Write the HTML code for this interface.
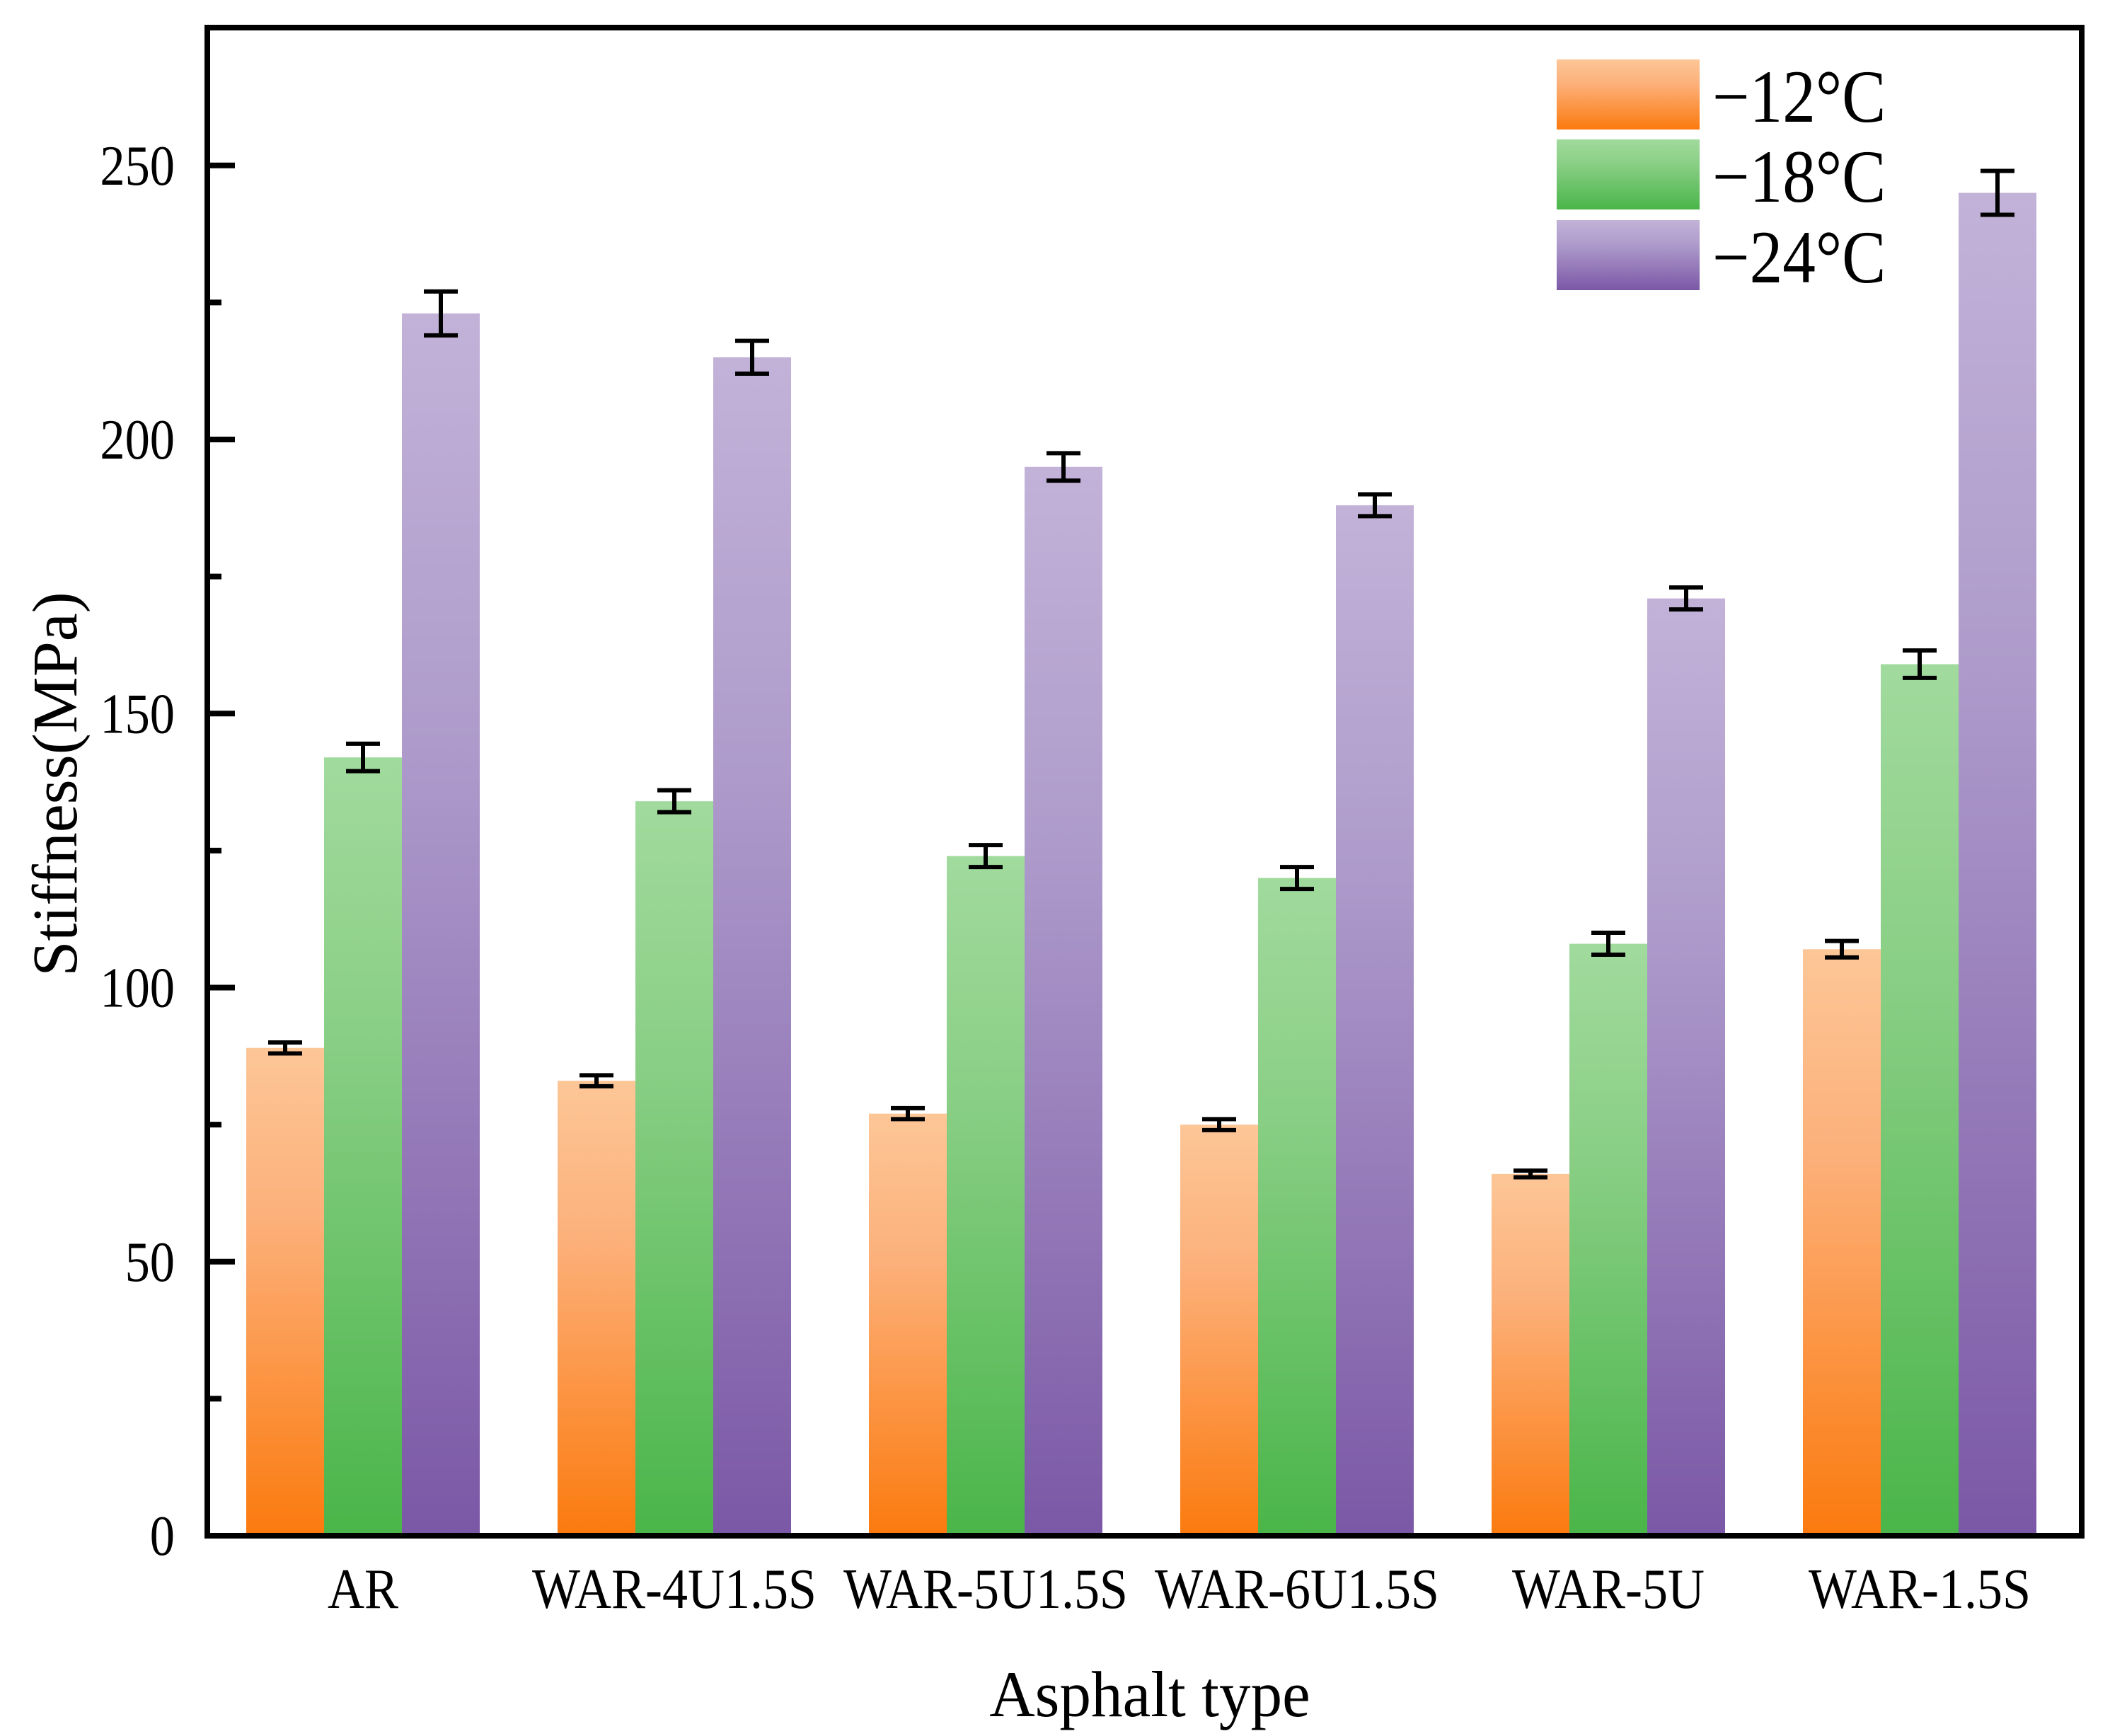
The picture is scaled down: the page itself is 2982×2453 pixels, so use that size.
<!DOCTYPE html>
<html><head><meta charset="utf-8"><style>
html,body{margin:0;padding:0;background:#fff}
svg{display:block;font-family:"Liberation Serif",serif}
</style></head><body>
<svg id="chart" width="2982" height="2453" viewBox="0 0 2982 2453" xmlns="http://www.w3.org/2000/svg">
<defs>
<linearGradient id="g0" x1="0" y1="0" x2="0" y2="1"><stop offset="0" stop-color="#fdc697"/><stop offset="0.35" stop-color="#fcb07a"/><stop offset="1" stop-color="#fb7a0e"/></linearGradient>
<linearGradient id="g1" x1="0" y1="0" x2="0" y2="1"><stop offset="0" stop-color="#a1da9d"/><stop offset="0.35" stop-color="#8acf86"/><stop offset="1" stop-color="#4ab549"/></linearGradient>
<linearGradient id="g2" x1="0" y1="0" x2="0" y2="1"><stop offset="0" stop-color="#c2b2d8"/><stop offset="0.35" stop-color="#ae9bcb"/><stop offset="1" stop-color="#7b58a6"/></linearGradient>
</defs>
<g id="bars"></g>
<g id="axes"></g>
</svg>
<script>
const categories = ["AR","WAR-4U1.5S","WAR-5U1.5S","WAR-6U1.5S","WAR-5U","WAR-1.5S"];
const series12 = [89,83,77,75,66,107];
const series18 = [142,134,124,120,108,159];
const series24 = [223,215,195,188,171,245];
const err12 = [1,1,1,1,0.6,1.5];
const err18 = [2.5,2,2,2,2,2.5];
const err24 = [4,3,2.5,2,2,4];
const seriesNames = ["\u221212\u00b0C","\u221218\u00b0C","\u221224\u00b0C"];
const yTicks = [0,50,100,150,200,250];
const yMinorTicks = [25,75,125,175,225];

const NS="http://www.w3.org/2000/svg";
const X0=293, X1=2942, Y0=2170, YT=39;
const yScale = v => Y0 - v*7.745;
const groupStart = i => 348 + i*440;
const BW=110;
function mk(tag, attrs, parent){const e=document.createElementNS(NS,tag);for(const k in attrs)e.setAttribute(k,attrs[k]);parent.appendChild(e);return e;}
const bars=document.getElementById('bars'), axes=document.getElementById('axes');
const all=[series12,series18,series24], errs=[err12,err18,err24];
categories.forEach((c,i)=>{
  all.forEach((s,j)=>{
    const x=groupStart(i)+j*BW, y=yScale(s[i]);
    const r=mk('rect',{x:x,y:y,width:BW,height:Y0-y,fill:'url(#g'+j+')'},bars);
    
    
    const cx=x+BW/2, yt=yScale(s[i]+errs[j][i]), yb=yScale(s[i]-errs[j][i]);
    const g=mk('g',{stroke:'#000','stroke-width':6},bars);
    
    
    mk('line',{x1:cx,y1:yt,x2:cx,y2:yb},g);
    mk('line',{x1:cx-24,y1:yt,x2:cx+24,y2:yt},g);
    mk('line',{x1:cx-24,y1:yb,x2:cx+24,y2:yb},g);
  });
  const t=mk('text',{x:0,y:0,'font-size':80,'text-anchor':'middle',transform:'translate('+(groupStart(i)+165)+',2272) scale(0.9,1)'},axes);
  t.textContent=c;
  
  
});
const f=mk('rect',{x:X0,y:YT,width:X1-X0,height:Y0-YT,fill:'none',stroke:'#000','stroke-width':8},axes);


yTicks.forEach(v=>{
  const y=yScale(v);
  const l=mk('line',{x1:X0,y1:y,x2:X0+39,y2:y,stroke:'#000','stroke-width':8},axes);
  
  
  const t=mk('text',{x:0,y:0,'font-size':80,'text-anchor':'end',transform:'translate(247,'+(y+27)+') scale(0.88,1)'},axes);
  t.textContent=v;
  
  
});
yMinorTicks.forEach(v=>{
  const y=yScale(v);
  const l=mk('line',{x1:X0,y1:y,x2:X0+20,y2:y,stroke:'#000','stroke-width':8},axes);
  
  
});
const xt=mk('text',{x:0,y:0,'font-size':92,'text-anchor':'middle',transform:'translate(1625,2425) scale(0.97,1)'},axes);
xt.textContent='Asphalt type';


const yt=mk('text',{x:0,y:0,'font-size':90,'text-anchor':'middle',transform:'translate(108,1108) rotate(-90)'},axes);
yt.textContent='Stiffness(MPa)';


const legTop=[84,197,311];
seriesNames.forEach((n,j)=>{
  const g=mk('g',{},axes);
  
  
  mk('rect',{x:2200,y:legTop[j],width:202,height:99,fill:'url(#g'+j+')'},g);
  const t=mk('text',{x:0,y:0,'font-size':106,transform:'translate(2420,'+(legTop[j]+88)+') scale(0.88,1)'},g);
  t.textContent=n;
});
</script>
</body></html>
